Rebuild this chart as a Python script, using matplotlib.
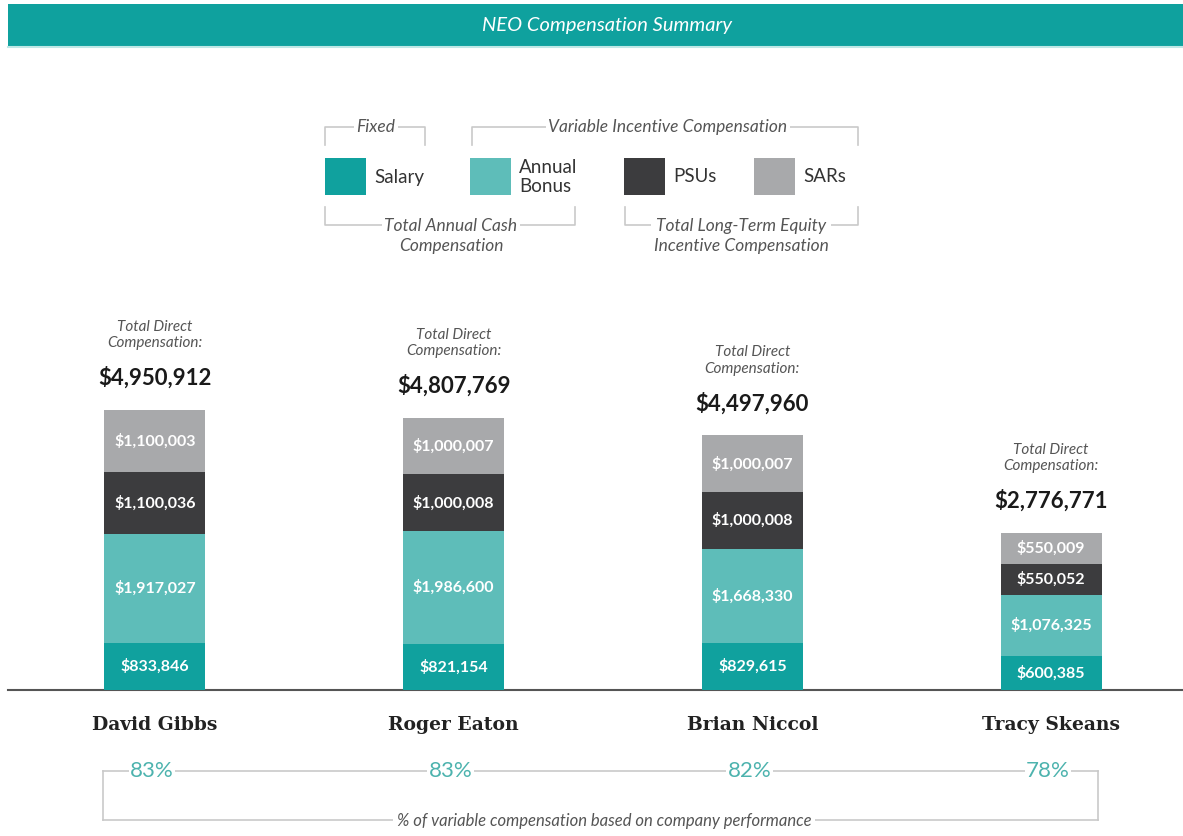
import matplotlib
matplotlib.use("Agg")
import matplotlib.pyplot as plt
from matplotlib.patches import Rectangle

# data
names = ["David Gibbs", "Roger Eaton", "Brian Niccol", "Tracy Skeans"]
salary = [833846, 821154, 829615, 600385]
bonus = [1917027, 1986600, 1668330, 1076325]
psus = [1100036, 1000008, 1000008, 550052]
sars = [1100003, 1000007, 1000007, 550009]
totals = [4950912, 4807769, 4497960, 2776771]
pct_variable = ["83%", "83%", "82%", "78%"]

series = [salary, bonus, psus, sars]
series_names = ["Salary", "Annual\nBonus", "PSUs", "SARs"]
colors = ["#10a19e", "#5ebdb9", "#3c3c3e", "#a8a9ab"]

PCT = "#4db3ae"
LINE = "#c9c9c9"
GREY_TXT = "#555555"
SANS = "Lato"

W, H = 1183, 836
fig = plt.figure(figsize=(W / 100, H / 100), dpi=100)

# overlay axes in pixel coordinates (y down)
ov = fig.add_axes([0, 0, 1, 1])
ov.set_xlim(0, W)
ov.set_ylim(H, 0)
ov.axis("off")

# bar axes: baseline at pixel 690, categories at 155/454/752/1051 px
base_px = 690
top_px = 300
step = 298.7
ax = fig.add_axes([0, (H - base_px) / H, 1, (base_px - top_px) / H])
ax.set_xlim(-155 / step, 3 + (W - 1051) / step)
ax.set_ylim(0, (base_px - top_px) / 56.6 * 1e6)
ax.axis("off")

x = list(range(len(names)))
bottom = [0] * len(names)
for vals, col in zip(series, colors):
    ax.bar(x, vals, bottom=bottom, width=101 / step, color=col, linewidth=0)
    for i, v in enumerate(vals):
        ax.text(i, bottom[i] + v / 2, f"${v:,}", ha="center", va="center",
                color="white", fontsize=11.5, fontfamily=SANS, fontweight="bold")
    bottom = [b + v for b, v in zip(bottom, vals)]

for i, t in enumerate(totals):
    ax.annotate(f"${t:,}", (i, bottom[i]), xytext=(0, 23), textcoords="offset points",
                ha="center", va="center", fontsize=16, fontweight="bold",
                fontfamily=SANS, color="#1a1a1a")
    ax.annotate("Total Direct\nCompensation:", (i, bottom[i]), xytext=(0, 54),
                textcoords="offset points", ha="center", va="center",
                fontsize=11, fontstyle="italic", fontfamily=SANS, color=GREY_TXT,
                linespacing=1.2)

# header band
ov.add_patch(Rectangle((8, 4), W - 8, 42, color="#0fa19e", lw=0))
ov.plot([8, W], [47, 47], color="#bfe8e6", lw=1.5)
ov.text(607, 25, "NEO Compensation Summary", ha="center", va="center",
        color="white", fontsize=14.5, fontstyle="italic", fontfamily=SANS)

# baseline
ov.plot([8, W], [base_px, base_px], color="#555555", lw=1.5)

# names
for i, n in enumerate(names):
    ov.text(155 + i * step, 725, n, ha="center", va="center",
            fontsize=13.5, fontweight="bold", fontfamily="DejaVu Serif", color="#222222")

# percentage row with bracket
ov.plot([103, 1098], [771, 771], color=LINE, lw=1.2)
ov.plot([103, 103], [771, 820], color=LINE, lw=1.2)
ov.plot([1098, 1098], [771, 820], color=LINE, lw=1.2)
ov.plot([103, 1098], [820, 820], color=LINE, lw=1.2)
for i, p in enumerate(pct_variable):
    ov.text(152 + i * step, 771, p, ha="center", va="center", fontsize=16,
            fontfamily=SANS, fontweight="normal", color=PCT,
            bbox=dict(facecolor="white", edgecolor="none", pad=1))
ov.text(604, 821, "% of variable compensation based on company performance",
        ha="center", va="center", fontsize=12, fontstyle="italic",
        fontfamily=SANS, color=GREY_TXT,
        bbox=dict(facecolor="white", edgecolor="none", pad=3))

# legend squares
sq_x = [325, 470, 624, 754]
for sx, col, lab in zip(sq_x, colors, series_names):
    ov.add_patch(Rectangle((sx, 158), 41, 37, color=col, lw=0))
    ov.text(sx + 49, 177, lab, ha="left", va="center", fontsize=13.5,
            fontfamily=SANS, color="#333333", linespacing=1.1)


def bracket(x0, x1, y_line, y_end, label, tx):
    ov.plot([x0, x0, x1, x1], [y_end, y_line, y_line, y_end], color=LINE, lw=1.2)
    ov.text(tx, y_line if "\n" not in label else y_line + 11, label,
            ha="center", va="center", fontsize=12.5, fontstyle="italic",
            fontfamily=SANS, color=GREY_TXT, linespacing=1.3,
            bbox=dict(facecolor="white", edgecolor="none", pad=2))


bracket(325, 425, 127, 145, "Fixed", 376)
bracket(472, 858, 127, 145, "Variable Incentive Compensation", 668)
bracket(325, 575, 225, 207, "Total Annual Cash\nCompensation", 451)
bracket(625, 858, 225, 207, "Total Long-Term Equity\nIncentive Compensation", 741)

fig.savefig("out.png", dpi=100)
